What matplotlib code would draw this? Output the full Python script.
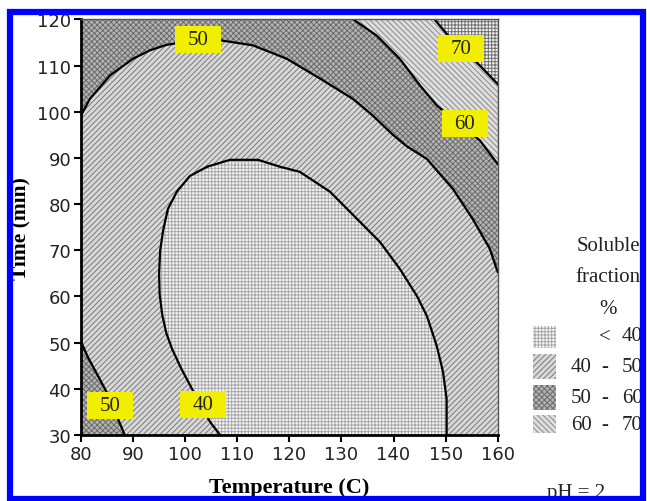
"""Contour map of soluble fraction vs temperature and time (pH = 2)."""
import matplotlib
matplotlib.use("Agg")
import matplotlib.pyplot as plt
from matplotlib.patches import Rectangle

# contour lines: (temperature C, time min)
c40_T = [106.7, 104.8, 101.3, 99.2, 97.5, 96.4, 95.6, 95.1, 95.0, 95.2, 95.8, 96.7,
         98.4, 100.9, 104.2, 108.6, 114.0, 118.2, 122.0, 127.8, 133.0, 137.4, 141.2,
         144.5, 146.4, 148.3, 149.5, 150.2, 150.2]
c40_t = [30.0, 32.8, 40.0, 44.5, 48.6, 52.0, 56.0, 60.5, 65.0, 70.0, 74.5, 79.0,
         82.7, 86.1, 88.1, 89.6, 89.6, 88.1, 87.0, 82.7, 76.8, 71.8, 66.0,
         60.1, 55.8, 49.3, 43.7, 37.8, 30.0]

c50_low_T = [80.0, 81.3, 83.6, 85.6, 87.1, 88.4]
c50_low_t = [50.2, 46.9, 42.1, 37.8, 33.5, 30.0]

c50_T = [80.0, 81.7, 85.6, 90.0, 93.2, 96.4, 101.0, 106.7, 113.0, 119.5, 125.9, 132.2,
         136.0, 139.9, 142.6, 146.4, 151.4, 155.2, 158.5, 160.0]
c50_t = [99.2, 102.8, 107.9, 111.5, 113.3, 114.5, 115.3, 115.5, 114.4, 111.5, 107.2, 102.8,
         99.2, 95.0, 92.5, 89.8, 83.3, 76.8, 70.3, 65.3]

c60_T = [132.3, 136.8, 141.2, 145.1, 148.3, 152.5, 156.6, 160.0]
c60_t = [120.0, 116.5, 111.5, 105.7, 101.4, 97.5, 93.8, 88.7]

c70_T = [147.9, 150.2, 153.5, 156.6, 160.0]
c70_t = [120.0, 116.9, 113.3, 110.0, 106.0]

# yellow contour labels
lab_text = ["50", "70", "60", "50", "40"]
lab_T = [102.5, 153.0, 153.7, 85.6, 103.5]
lab_t = [115.6, 113.7, 97.4, 36.4, 36.6]

# legend
leg_labels = [("<", "40"), ("40", "50"), ("50", "60"), ("60", "70")]

T_MIN, T_MAX = 80, 160
t_MIN, t_MAX = 30, 120

# fill styles: (face, hatch colour, hatch)
ST_LT40 = ("#f4f4f4", "#a8a8a8", "+++++")
ST_40 = ("#d8d8d8", "#7a7a7a", "//////")
ST_50 = ("#b4b4b4", "#6a6a6a", "xxxxxx")
ST_60 = ("#dedede", "#8a8a8a", "\\\\\\\\\\\\")
ST_70 = ("#f0f0f0", "#707070", "+++++")

plt.rcParams["hatch.linewidth"] = 0.7

fig = plt.figure(figsize=(6.47, 5.02), dpi=100)
ax = fig.add_axes([0.1252, 0.1315, 0.6440, 0.8277])
ax.set_xlim(T_MIN, T_MAX)
ax.set_ylim(t_MIN, t_MAX)


def region(xs, ys, st, z):
    ax.fill(xs, ys, facecolor=st[0], edgecolor=st[1], hatch=st[2], linewidth=0, zorder=z)


# base 40-50
region([T_MIN, T_MAX, T_MAX, T_MIN], [t_MIN, t_MIN, t_MAX, t_MAX], ST_40, 1)
# upper 50-60
region(c50_T + [T_MAX, T_MIN], c50_t + [t_MAX, t_MAX], ST_50, 2)
# 60-70
region(c60_T + [T_MAX], c60_t + [t_MAX], ST_60, 3)
# > 70
region(c70_T + [T_MAX], c70_t + [t_MAX], ST_70, 4)
# lower-left 50-60
region(c50_low_T + [T_MIN], c50_low_t + [t_MIN], ST_50, 2)
# < 40
region(c40_T, c40_t, ST_LT40, 2)

for xs, ys in [(c40_T, c40_t), (c50_low_T, c50_low_t), (c50_T, c50_t),
               (c60_T, c60_t), (c70_T, c70_t)]:
    ax.plot(xs, ys, color="black", linewidth=1.6, zorder=6, solid_joinstyle="round")

for s, x, y in zip(lab_text, lab_T, lab_t):
    ax.add_patch(Rectangle((x - 4.4, y - 2.9), 8.8, 5.8, facecolor="#f2ee00",
                           edgecolor="none", zorder=7))
    ax.text(x, y, s, ha="center", va="center", fontsize=15,
            family="Liberation Serif", color="#222222", zorder=8)

ax.set_xticks(range(T_MIN, T_MAX + 1, 10))
ax.set_yticks(range(t_MIN, t_MAX + 1, 10))
ax.tick_params(direction="out", length=5, width=1.5, labelsize=13, pad=2,
               colors="black")
for lab in ax.get_xticklabels() + ax.get_yticklabels():
    lab.set_color("#222222")
for side in ("left", "bottom"):
    ax.spines[side].set_linewidth(2)
for side in ("top", "right"):
    ax.spines[side].set_linewidth(1)
    ax.spines[side].set_color("#555555")
for sp in ax.spines.values():
    sp.set_zorder(9)

fig.text(0.447, 0.028, "Temperature (C)", ha="center", va="center", fontsize=16,
         fontweight="bold", family="Liberation Serif")
fig.text(0.032, 0.545, "Time (min)", ha="center", va="center", rotation=90,
         fontsize=15.5, fontweight="bold", family="Liberation Serif")

# legend block
W, H = 647.0, 502.0
FS = 15
for txt, yy in [("Soluble", 247), ("fraction", 278), ("%", 309)]:
    fig.text(608 / W, 1 - yy / H, txt, ha="center", va="center", fontsize=FS,
             family="Liberation Serif", color="#222222")
sw_y = [327, 355, 386, 416]
sw_h = [22, 25, 25, 18]
styles = [ST_LT40, ST_40, ST_50, ST_60]
text_y = [337, 368, 399, 426]
for (a, b), y0, h, st, ty in zip(leg_labels, sw_y, sw_h, styles, text_y):
    fig.patches.append(Rectangle((533 / W, 1 - (y0 + h) / H), 23 / W, h / H,
                                 transform=fig.transFigure, facecolor=st[0],
                                 edgecolor=st[1], hatch=st[2], linewidth=0))
    if a == "<":
        fig.text(605 / W, 1 - ty / H, "<", ha="center", va="center", fontsize=FS,
                 family="Liberation Serif", color="#222222")
    else:
        fig.text(581 / W, 1 - ty / H, a, ha="center", va="center", fontsize=FS,
                 family="Liberation Serif", color="#222222")
        fig.text(605 / W, 1 - ty / H, "-", ha="center", va="center", fontsize=FS,
                 family="Liberation Serif", color="#222222")
    fig.text(622 / W, 1 - ty / H, b, ha="left", va="center", fontsize=FS,
             family="Liberation Serif", color="#222222")

fig.text(576 / W, 1 - 494 / H, "pH = 2", ha="center", va="center", fontsize=FS,
         family="Liberation Serif", color="#222222")

# blue frame
fig.patches.append(Rectangle((10 / W, 1 - 499.5 / H), 633 / W, 486.5 / H,
                             transform=fig.transFigure, facecolor="none",
                             edgecolor="#0000ff", linewidth=4.5, zorder=20))

fig.savefig("out.png", dpi=100, facecolor="white")
